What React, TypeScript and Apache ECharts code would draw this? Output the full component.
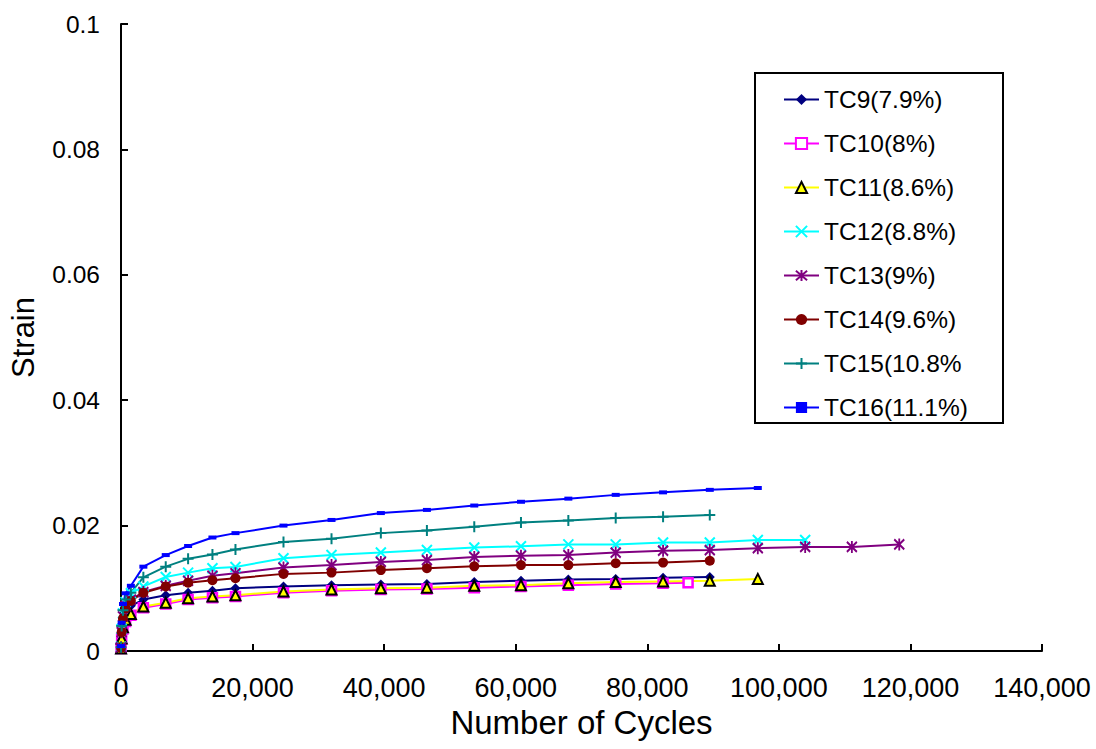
import React, { useEffect, useRef } from "react";
import * as echarts from "echarts";

const CYCLES = [10, 100, 300, 700, 1500, 3400, 6800, 10200, 13900, 17400, 24700, 32000, 39500, 46500, 53700, 60800, 68000, 75200, 82400, 89500, 96800, 104000, 111100, 118300];
const TC10_CYCLES = [10, 100, 300, 700, 1500, 3400, 6800, 10200, 13900, 17400, 24700, 32000, 39500, 46500, 53700, 60800, 68000, 75200, 82400, 86200];

const TC9 = [0.0005, 0.0025, 0.0045, 0.0062, 0.0072, 0.0082, 0.0089, 0.0093, 0.0096, 0.0100, 0.0103, 0.0105, 0.0106, 0.0107, 0.0110, 0.0112, 0.0114, 0.0115, 0.0117, 0.0118];
const TC10 = [0.0004, 0.002, 0.0035, 0.0047, 0.0057, 0.0069, 0.0075, 0.0082, 0.0085, 0.0087, 0.0093, 0.0096, 0.0098, 0.0099, 0.0101, 0.0103, 0.0105, 0.0107, 0.0108, 0.0109];
const TC11 = [0.0004, 0.002, 0.0038, 0.005, 0.0059, 0.0071, 0.0077, 0.0084, 0.0087, 0.0089, 0.0095, 0.0098, 0.0100, 0.0101, 0.0104, 0.0105, 0.0108, 0.0110, 0.0111, 0.0112, 0.0115];
const TC12 = [0.0007, 0.0035, 0.006, 0.0078, 0.0092, 0.0103, 0.0118, 0.0125, 0.0132, 0.0134, 0.0148, 0.0153, 0.0157, 0.0161, 0.0165, 0.0167, 0.0170, 0.0170, 0.0173, 0.0173, 0.0177, 0.0177];
const TC13 = [0.0006, 0.003, 0.0055, 0.0072, 0.0082, 0.0094, 0.0104, 0.0112, 0.0120, 0.0124, 0.0133, 0.0137, 0.0142, 0.0145, 0.0150, 0.0152, 0.0153, 0.0157, 0.0160, 0.0161, 0.0164, 0.0166, 0.0166, 0.0170];
const TC14 = [0.0005, 0.003, 0.0052, 0.0068, 0.0080, 0.0093, 0.0103, 0.0109, 0.0113, 0.0116, 0.0123, 0.0125, 0.0129, 0.0132, 0.0135, 0.0137, 0.0137, 0.0140, 0.0141, 0.0144];
const TC15 = [0.0006, 0.004, 0.0065, 0.0082, 0.0093, 0.01175, 0.01345, 0.0147, 0.0154, 0.0162, 0.0174, 0.0179, 0.0188, 0.0192, 0.0198, 0.0205, 0.0208, 0.0212, 0.0214, 0.0217];
const TC16 = [0.0008, 0.0045, 0.0075, 0.0092, 0.0104, 0.01345, 0.0153, 0.01675, 0.0181, 0.0188, 0.0200, 0.0209, 0.0220, 0.0225, 0.0232, 0.0238, 0.0243, 0.0249, 0.0253, 0.0257, 0.0260];

const X_TICKS = [0, 20000, 40000, 60000, 80000, 100000, 120000, 140000];
const Y_TICKS = [0, 0.02, 0.04, 0.06, 0.08, 0.1];

const FONT = "'Liberation Sans', Arial, sans-serif";

const pair = (xs: number[], ys: number[]) => ys.map((y, i) => [xs[i], y]);

export default function App() {
  const ref = useRef<HTMLDivElement>(null);
  useEffect(() => {
    if (!ref.current) return;
    const chart = echarts.init(ref.current, undefined, { renderer: "svg" });
    const mk = (name: string, xs: number[], ys: number[], color: string, symbol: string, size: any, item: any) => ({
      name,
      type: "line",
      data: pair(xs, ys),
      symbol,
      symbolSize: size,
      showAllSymbol: true,
      lineStyle: { color, width: 2 },
      itemStyle: item,
      emphasis: { disabled: true },
    });
    const series = [
      mk("TC9(7.9%)", CYCLES, TC9, "#000080", "diamond", 10, { color: "#000080" }),
      mk("TC10(8%)", TC10_CYCLES, TC10, "#FF00FF", "rect", 9, { color: "#ffffff", borderColor: "#FF00FF", borderWidth: 2.5 }),
      mk("TC11(8.6%)", CYCLES, TC11, "#FFFF00", "triangle", 10, { color: "#FFFF00", borderColor: "#000000", borderWidth: 2 }),
      mk("TC12(8.8%)", CYCLES, TC12, "#00FFFF", "path://M0,0L10,10M10,0L0,10", 10, { color: "#00FFFF", borderColor: "#00FFFF", borderWidth: 2 }),
      mk("TC13(9%)", CYCLES, TC13, "#800080", "path://M0,1L10,11M10,1L0,11M5,0L5,12", [10, 12], { color: "#800080", borderColor: "#800080", borderWidth: 2 }),
      mk("TC14(9.6%)", CYCLES, TC14, "#800000", "circle", 10, { color: "#800000" }),
      mk("TC15(10.8%", CYCLES, TC15, "#008080", "path://M0,5L10,5M5,0L5,10", 11, { color: "#008080", borderColor: "#008080", borderWidth: 2 }),
      mk("TC16(11.1%)", CYCLES, TC16, "#0000FF", "rect", [8, 4], { color: "#0000FF" }),
    ];
    chart.setOption({
      animation: false,
      backgroundColor: "#ffffff",
      grid: { left: 121, top: 24, right: 54, bottom: 98, outerBoundsMode: "none", containLabel: false },
      xAxis: {
        type: "value",
        min: X_TICKS[0],
        max: X_TICKS[X_TICKS.length - 1],
        interval: X_TICKS[1] - X_TICKS[0],
        name: "Number of Cycles",
        nameLocation: "middle",
        nameGap: 53,
        nameTextStyle: { fontFamily: FONT, fontSize: 33, color: "#000" },
        axisLine: { lineStyle: { color: "#000", width: 2 } },
        axisTick: { inside: true, length: 7, lineStyle: { color: "#000", width: 2 } },
        splitLine: { show: false },
        axisLabel: {
          fontFamily: FONT,
          fontSize: 27,
          color: "#000",
          margin: 23,
          formatter: (v: number) => v.toLocaleString("en-US"),
        },
      },
      yAxis: {
        type: "value",
        min: Y_TICKS[0],
        max: Y_TICKS[Y_TICKS.length - 1],
        interval: Y_TICKS[1] - Y_TICKS[0],
        name: "Strain",
        nameLocation: "middle",
        nameGap: 82,
        nameTextStyle: { fontFamily: FONT, fontSize: 31, color: "#000" },
        axisLine: { show: true, lineStyle: { color: "#000", width: 2 } },
        axisTick: { show: true, inside: true, length: 7, lineStyle: { color: "#000", width: 2 } },
        splitLine: { show: false },
        axisLabel: {
          fontFamily: FONT,
          fontSize: 24.5,
          color: "#000",
          margin: 21,
          formatter: (v: number) => String(Math.round(v * 1000) / 1000),
        },
      },
      legend: {
        orient: "vertical",
        left: 783,
        top: 87,
        itemWidth: 35,
        itemHeight: 14,
        itemGap: 19,
        padding: 0,
        textStyle: { fontFamily: FONT, fontSize: 24.5, color: "#000", lineHeight: 24.5 },
        data: series.map((s) => s.name),
      },
      graphic: [
        {
          type: "rect",
          shape: { x: 755, y: 73, width: 248, height: 350 },
          style: { fill: "none", stroke: "#000", lineWidth: 2 },
          silent: true,
          z: -1,
        },
      ],
      series,
    });
    return () => chart.dispose();
  }, []);
  return (
    <div
      ref={ref}
      style={{ position: "fixed", left: 0, top: 0, width: 1096, height: 749, background: "#fff" }}
    />
  );
}
